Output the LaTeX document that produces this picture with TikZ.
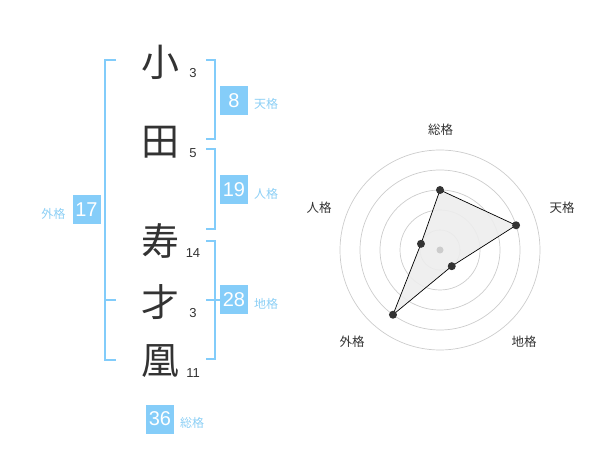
\documentclass[tikz,border=0pt]{standalone}
\usepackage{fontspec}
\setmainfont{Liberation Sans}
\newfontfamily\cjk{Noto Sans CJK JP}
\definecolor{boxblue}{RGB}{133,205,249}
\definecolor{brblue}{RGB}{130,204,250}
\definecolor{lblblue}{RGB}{140,207,245}
\definecolor{ink}{RGB}{51,51,51}
\definecolor{ring}{RGB}{204,204,204}
\tikzset{
  kanji/.style={inner sep=0pt, text=ink, font=\cjk\fontsize{38}{38}\selectfont},
  strokes/.style={inner sep=0pt, text=ink, font=\fontsize{13}{13}\selectfont},
  numbox/.style={fill=boxblue, text=white, minimum width=28pt, minimum height=29pt, inner sep=0pt, font=\fontsize{20}{20}\selectfont},
  kaku/.style={inner sep=0pt, text=lblblue, font=\cjk\fontsize{12}{12}\selectfont},
  bracket/.style={draw=brblue, line width=2pt},
  radarlbl/.style={inner sep=0pt, text=ink, font=\cjk\fontsize{12.5}{12.5}\selectfont},
  ringline/.style={draw=ring, line width=0.7pt},
  dot/.style={circle, fill=ink, inner sep=0pt, minimum size=8pt},
}
\begin{document}
\begin{tikzpicture}[x=1pt,y=-1pt]
\useasboundingbox (0,0) rectangle (600,470);
% kanji
\node[kanji] (k1) at (160,62) {小};
\node[kanji] (k2) at (160,142) {田};
\node[kanji] (k3) at (160,241) {寿};
\node[kanji] (k4) at (160,302) {才};
\node[kanji] (k5) at (160,361) {凰};
% stroke counts
\node[strokes] (s1) at (193,73) {3};
\node[strokes] (s2) at (193,153) {5};
\node[strokes] (s3) at (193,253) {14};
\node[strokes] (s4) at (193,313) {3};
\node[strokes] (s5) at (193,373) {11};
% brackets
\draw[bracket] (116,60) -- (105,60) -- (105,360) -- (116,360);
\draw[bracket] (105,300) -- (116,300);
\draw[bracket] (206,60) -- (215,60) -- (215,139) -- (206,139);
\draw[bracket] (206,149) -- (215,149) -- (215,229) -- (206,229);
\draw[bracket] (206,241) -- (215,241) -- (215,359) -- (206,359);
\draw[bracket] (206,300) -- (222,300);
% boxes
\node[numbox] (ten) at (234,100.5) {8};
\node[kaku] (tenl) at (266,104) {天格};
\node[numbox] (jin) at (234,190) {19};
\node[kaku] (jinl) at (266,194) {人格};
\node[numbox] (chi) at (234,300) {28};
\node[kaku] (chil) at (266,304) {地格};
\node[numbox] (gai) at (86.5,210) {17};
\node[kaku] (gail) at (53.5,213.5) {外格};
\node[numbox] (sou) at (160,419) {36};
\node[kaku] (soul) at (192,423) {総格};
% radar
\begin{scope}[shift={(440,250)}]
  \foreach \r in {20,40,60,80,100} \draw[ringline] (0,0) circle (\r);
  \coordinate (pS) at (-90:60);
  \coordinate (pT) at (-18:80);
  \coordinate (pC) at (54:20);
  \coordinate (pG) at (126:80);
  \coordinate (pJ) at (-162:20);
  \fill[black!7, opacity=0.9] (pS) -- (pT) -- (pC) -- (pG) -- (pJ) -- cycle;
  \draw[black, line width=0.7pt] (pS) -- (pT) -- (pC) -- (pG) -- (pJ) -- cycle;
  \node[circle, fill=ring, inner sep=0pt, minimum size=7pt] (ctr) at (0,0) {};
  \node[dot] (dS) at (pS) {};
  \node[dot] (dT) at (pT) {};
  \node[dot] (dC) at (pC) {};
  \node[dot] (dG) at (pG) {};
  \node[dot] (dJ) at (pJ) {};
\end{scope}
\node[radarlbl] (rS) at (440.7,130) {総格};
\node[radarlbl] (rT) at (562,208) {天格};
\node[radarlbl] (rJ) at (319,208) {人格};
\node[radarlbl] (rG) at (352,342) {外格};
\node[radarlbl] (rC) at (524,342) {地格};
\end{tikzpicture}
\end{document}
